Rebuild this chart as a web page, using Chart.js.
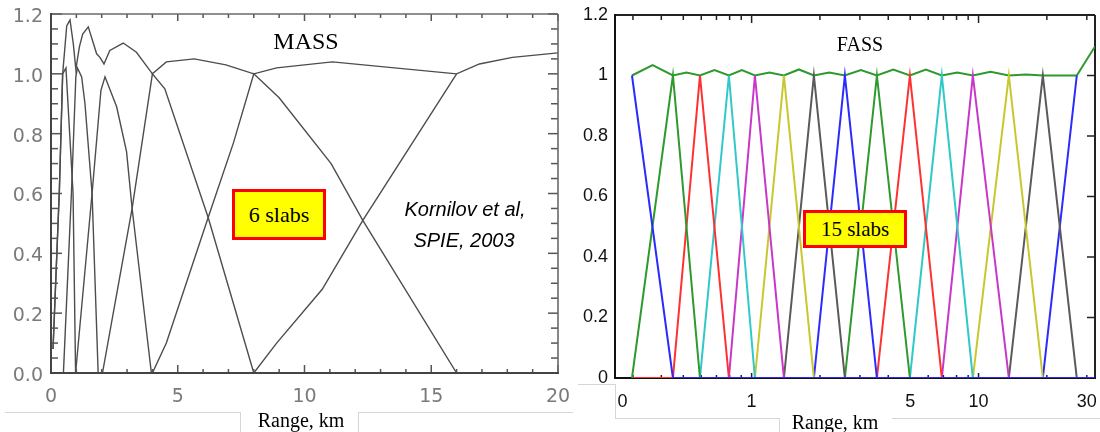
<!DOCTYPE html>
<html><head><meta charset="utf-8">
<script src="https://cdn.jsdelivr.net/npm/chart.js@4.4.1/dist/chart.umd.min.js"></script>
<style>
html,body{margin:0;padding:0;background:#fff;}
#wrap{position:relative;width:1100px;height:432px;overflow:hidden;background:#fff;}
canvas{position:absolute;top:0;}
.t{position:absolute;white-space:nowrap;transform:translate(-50%,-50%);line-height:1;color:#000;}
.serif{font-family:'Liberation Serif','Times New Roman',serif;}
.ital{font-family:'Liberation Sans',Arial,sans-serif;font-style:italic;}
.ln{position:absolute;background:#d6d6d6;}
.box{position:absolute;box-sizing:border-box;border:3px solid #ff0000;background:#ffff00;color:#000;display:flex;align-items:center;justify-content:center;font-family:'Liberation Serif','Times New Roman',serif;}
</style></head><body><div id="wrap">
<canvas id="mass" width="575" height="432" style="left:0"></canvas>
<canvas id="fass" width="525" height="432" style="left:575px"></canvas>

<div class="t serif" style="left:306px;top:41px;font-size:24px;">MASS</div>
<div class="box" style="left:232px;top:189px;width:94px;height:51px;font-size:22px;">6 slabs</div>
<div class="t ital" style="left:465px;top:209px;font-size:20px;">Kornilov et al,</div>
<div class="t ital" style="left:464px;top:240px;font-size:20px;">SPIE, 2003</div>

<div class="t serif" style="left:860px;top:44px;font-size:20px;">FASS</div>
<div class="box" style="left:803px;top:210px;width:104px;height:38px;font-size:21px;">15 slabs</div>

<div class="ln" style="left:5px;top:412px;width:236px;height:1px;"></div>
<div class="ln" style="left:240px;top:412px;width:1px;height:20px;"></div>
<div class="ln" style="left:358px;top:412px;width:215px;height:1px;"></div>
<div class="ln" style="left:358px;top:412px;width:1px;height:20px;"></div>
<div class="t serif" style="left:301px;top:420px;font-size:20px;">Range, km</div>

<div class="ln" style="left:578px;top:384px;width:37px;height:1px;"></div>
<div class="ln" style="left:615px;top:384px;width:1px;height:34px;"></div>
<div class="ln" style="left:615px;top:418px;width:165px;height:1px;"></div>
<div class="ln" style="left:779px;top:418px;width:1px;height:14px;"></div>
<div class="ln" style="left:892px;top:418px;width:208px;height:1px;"></div>
<div class="t serif" style="left:835px;top:422px;font-size:20px;">Range, km</div>
</div>
<script>
// ---------------- MASS (6 slabs), altitude in km ----------------
const massXLabels = ['0','5','10','15','20'];
const massYLabels = ['0.0','0.2','0.4','0.6','0.8','1.0','1.2'];

const w05Km  = [0.08, 0.33, 0.46, 0.59, 0.87, 0.97];
const w05Val = [0.08, 0.61, 1.00, 1.02, 0.60, 0.00];
const w1Km   = [0.49, 0.81, 0.98, 1.04, 1.21, 1.34, 1.62, 1.86];
const w1Val  = [0.00, 0.61, 0.99, 1.02, 0.99, 0.90, 0.60, 0.00];
const w2Km   = [0.97, 1.62, 1.97, 2.13, 2.59, 2.98, 3.20, 3.96];
const w2Val  = [0.00, 0.60, 0.945, 0.99, 0.89, 0.74, 0.55, 0.00];
const w4Km   = [2.03, 3.20, 4.00, 4.49, 6.20, 8.00];
const w4Val  = [0.00, 0.55, 1.00, 0.95, 0.52, 0.00];
const w8Km   = [4.00, 4.55, 6.20, 7.20, 8.00, 9.00, 11.05, 12.30, 16.00];
const w8Val  = [0.00, 0.10, 0.52, 0.77, 1.00, 0.92, 0.70, 0.51, 0.00];
const w16Km  = [8.00, 8.90, 10.70, 12.30, 16.00];
const w16Val = [0.00, 0.10, 0.28, 0.51, 1.00];
const massSumKm  = [0.08, 0.33, 0.46, 0.62, 0.75, 0.88, 0.98, 1.12, 1.25, 1.47, 1.80, 1.93, 2.09, 2.32, 2.85, 3.37, 4.00, 4.55, 5.65, 6.90, 8.00, 8.90, 11.10, 16.00, 16.90, 18.20, 20.00];
const massSumVal = [0.08, 0.61, 1.00, 1.16, 1.18, 1.10, 1.015, 1.09, 1.133, 1.157, 1.067, 1.055, 1.033, 1.078, 1.103, 1.072, 1.00, 1.04, 1.05, 1.03, 1.00, 1.02, 1.04, 1.00, 1.033, 1.055, 1.07];

// ---------------- FASS (15 slabs), altitude in km ----------------
const fassPeakKm  = [0.297, 0.450, 0.592, 0.794, 1.034, 1.388, 1.881, 2.576, 3.565, 4.983, 6.89, 9.44, 13.6, 19.2, 27.1];
const fassPeakVal = [1, 1, 1, 1, 1, 1, 1, 1, 1, 1, 1, 1, 1, 1, 1];
const fassEndKm   = 32.6;
const fassSumKm   = [0.297, 0.366, 0.450, 0.516, 0.592, 0.686, 0.794, 0.906, 1.034, 1.198, 1.388, 1.616, 1.881, 2.20, 2.576, 3.03, 3.565, 4.21, 4.983, 5.86, 6.89, 8.06, 9.44, 11.3, 13.6, 16.2, 19.2, 23.0, 27.1, 32.6];
const fassSumVal  = [1.00, 1.034, 1.00, 1.01, 1.00, 1.018, 1.00, 1.018, 1.00, 1.01, 1.00, 1.02, 1.00, 1.01, 1.00, 1.018, 1.00, 1.02, 1.00, 1.02, 1.00, 1.01, 1.00, 1.012, 1.00, 1.003, 1.00, 1.00, 1.00, 1.096];
const fassXTickKm     = [0.27, 1, 5, 10, 30];
const fassXTickLabels = ['0', '1', '5', '10', '30'];
const fassYLabels     = ['0', '0.2', '0.4', '0.6', '0.8', '1', '1.2'];
const fassColors = ['#2b2bff', '#2e9a2e', '#ff3030', '#30c8c8', '#c838c8', '#c8c82e', '#5a5a5a'];

// ---------------- helpers ----------------
const pts = (xs, ys) => xs.map((x, i) => ({x, y: ys[i]}));
function seg(ctx, x1, y1, x2, y2) { ctx.beginPath(); ctx.moveTo(x1, y1); ctx.lineTo(x2, y2); ctx.stroke(); }
const noPadX = h => s => { s.height = h; s.paddingLeft = 0; s.paddingRight = 0; };
const noPadY = w => s => { s.width = w; s.paddingTop = 0; s.paddingBottom = 0; };

function drawFrame(chart, o) {
  const {ctx, chartArea: a} = chart;
  const xs = chart.scales.x, ys = chart.scales.y;
  ctx.save();
  ctx.lineCap = 'butt';
  ctx.strokeStyle = o.tickColor; ctx.lineWidth = o.tickWidth;
  for (const t of o.xTicks) {
    const p = xs.getPixelForValue(t.v);
    if (t.top) seg(ctx, p, a.top, p, a.top + t.top);
    if (t.bottom) seg(ctx, p, a.bottom, p, a.bottom - t.bottom);
  }
  for (const t of o.yTicks) {
    const p = ys.getPixelForValue(t.v);
    if (t.left) seg(ctx, a.left, p, a.left + t.left, p);
    if (t.right) seg(ctx, a.right, p, a.right - t.right, p);
  }
  ctx.strokeStyle = o.frame2; ctx.lineWidth = o.frame2W;
  seg(ctx, a.left, a.top, a.right, a.top);
  seg(ctx, a.right, a.top, a.right, a.bottom);
  ctx.strokeStyle = o.frame1; ctx.lineWidth = o.frame1W;
  seg(ctx, a.left, a.top - 1, a.left, a.bottom + 1);
  seg(ctx, a.left - 1, a.bottom, a.right + 1, a.bottom);
  ctx.restore();
}
const axisFrame = {
  id: 'axisFrame',
  beforeDatasetsDraw(chart, _a, o) { if (o.under) drawFrame(chart, o); },
  afterDatasetsDraw(chart, _a, o) { if (!o.under) drawFrame(chart, o); }
};

// tick mark specs (marks only; labels come from the label arrays)
const massXT = []; for (let k = 0; k <= 20; k++) { const maj = k % 5 === 0; massXT.push({v: k, top: maj ? 7 : 4, bottom: maj ? 8 : 4}); }
const massYT = []; for (let k = 0; k <= 24; k++) { const maj = k % 4 === 0; massYT.push({v: k * 0.05, left: maj ? 11 : 7, right: maj ? 10 : 7}); }
const fassXT = [];
[0.3,0.4,0.5,0.6,0.7,0.8,0.9,1,2,3,4,5,6,7,8,9,10,20,30].forEach(v => { const maj = (v === 1 || v === 10); fassXT.push({v, top: maj ? 8 : 5, bottom: maj ? 5 : 3}); });
const fassYT = []; for (let k = 1; k <= 5; k++) fassYT.push({v: k * 0.2, right: 8, left: 0});

// ---------------- MASS chart ----------------
const massLine = {borderColor: '#4d4d4d', borderWidth: 1.4, pointRadius: 0, tension: 0, fill: false};
new Chart(document.getElementById('mass'), {
  type: 'line',
  data: {datasets: [
    {...massLine, label: 'W 0.5 km', data: pts(w05Km, w05Val)},
    {...massLine, label: 'W 1 km',   data: pts(w1Km, w1Val)},
    {...massLine, label: 'W 2 km',   data: pts(w2Km, w2Val)},
    {...massLine, label: 'W 4 km',   data: pts(w4Km, w4Val)},
    {...massLine, label: 'W 8 km',   data: pts(w8Km, w8Val)},
    {...massLine, label: 'W 16 km',  data: pts(w16Km, w16Val)},
    {...massLine, label: 'Sum',      data: pts(massSumKm, massSumVal)}
  ]},
  options: {
    responsive: false, animation: false, devicePixelRatio: 1,
    layout: {padding: {top: 14, right: 17, bottom: 0, left: 0}},
    plugins: {legend: {display: false}, tooltip: {enabled: false},
      axisFrame: {under: false, xTicks: massXT, yTicks: massYT, tickColor: '#555', tickWidth: 1.5,
                  frame1: '#444', frame1W: 2, frame2: '#6a6a6a', frame2W: 1.6}},
    scales: {
      x: {type: 'linear', min: 0, max: 20,
          afterFit: noPadX(59),
          grid: {display: false, drawTicks: false}, border: {display: false},
          ticks: {stepSize: 5, padding: 13, color: '#7a7a7a', maxRotation: 0, autoSkip: false,
                  font: {family: 'DejaVu Sans', size: 19},
                  callback: (v, i) => massXLabels[i]}},
      y: {type: 'linear', min: 0, max: 1.2,
          afterFit: noPadY(51),
          grid: {display: false, drawTicks: false}, border: {display: false},
          ticks: {stepSize: 0.2, padding: 8, color: '#7a7a7a', labelOffset: 3, autoSkip: false,
                  font: {family: 'DejaVu Sans', size: 19},
                  callback: (v, i) => massYLabels[i]}}
    }
  },
  plugins: [axisFrame]
});

// ---------------- FASS chart ----------------
const fassSets = fassPeakKm.map((pk, i) => {
  const d = [];
  if (i > 0) { d.push({x: fassPeakKm[0], y: 0}); if (i > 1) d.push({x: fassPeakKm[i - 1], y: 0}); }
  d.push({x: pk, y: fassPeakVal[i]});
  if (i < fassPeakKm.length - 1) { d.push({x: fassPeakKm[i + 1], y: 0}); d.push({x: fassEndKm, y: 0}); }
  return {label: 'slab ' + (i + 1), data: d, borderColor: fassColors[i % fassColors.length],
          borderWidth: 2, pointRadius: 0, tension: 0, fill: false};
});
fassSets.push({label: 'Sum', data: pts(fassSumKm, fassSumVal), borderColor: '#2e9a2e',
               borderWidth: 2, pointRadius: 0, tension: 0, fill: false});

new Chart(document.getElementById('fass'), {
  type: 'line',
  data: {datasets: fassSets},
  options: {
    responsive: false, animation: false, devicePixelRatio: 1,
    layout: {padding: {top: 15, right: 5, bottom: 0, left: 0}},
    plugins: {legend: {display: false}, tooltip: {enabled: false},
      axisFrame: {under: true, xTicks: fassXT, yTicks: fassYT, tickColor: '#222', tickWidth: 1.5,
                  frame1: '#111', frame1W: 2, frame2: '#222', frame2W: 2}},
    scales: {
      x: {type: 'logarithmic', min: 0.25, max: fassEndKm,
          afterFit: noPadX(54),
          afterBuildTicks: s => { s.ticks = fassXTickKm.map(v => ({value: v})); },
          grid: {display: false, drawTicks: false}, border: {display: false},
          ticks: {padding: 13, color: '#111', maxRotation: 0, autoSkip: false,
                  font: {family: 'Liberation Sans', size: 18},
                  callback: (v, i) => fassXTickLabels[i]}},
      y: {type: 'linear', min: 0, max: 1.2,
          afterFit: noPadY(40),
          grid: {display: false, drawTicks: false}, border: {display: false},
          ticks: {stepSize: 0.2, padding: 7, color: '#111', autoSkip: false,
                  font: {family: 'Liberation Sans', size: 18},
                  callback: (v, i) => fassYLabels[i]}}
    }
  },
  plugins: [axisFrame]
});
</script>
</body></html>
